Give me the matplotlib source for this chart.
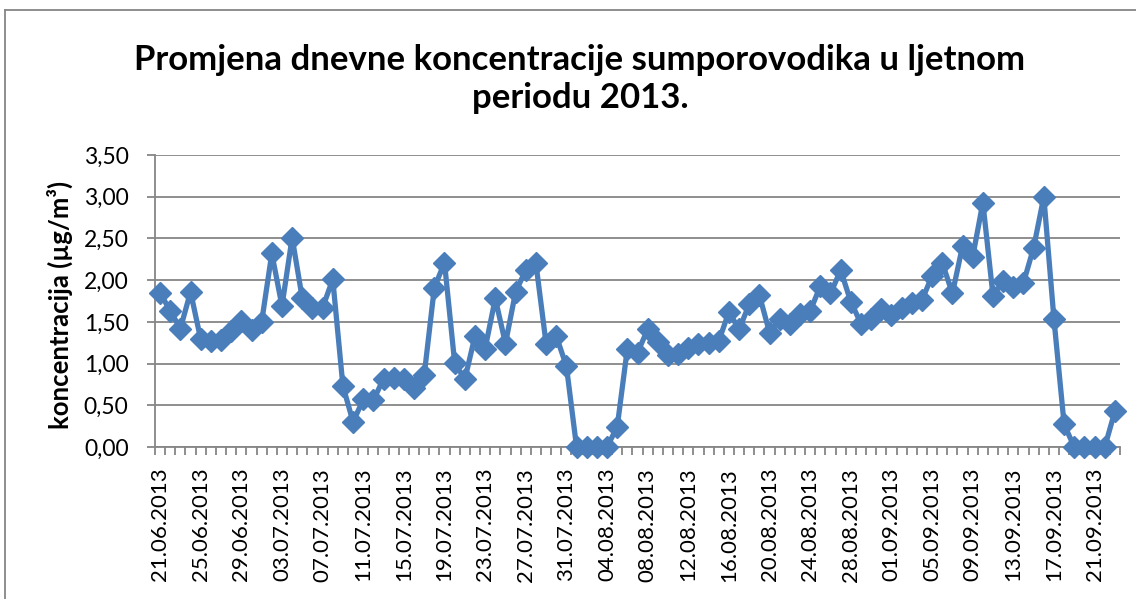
import matplotlib

matplotlib.use("Agg")
import matplotlib.pyplot as plt
import matplotlib.ticker as mticker
from matplotlib.lines import Line2D
import pandas as pd

plt.rcParams["font.family"] = ["Lato", "DejaVu Sans"]

# dnevne vrijednosti H2S (ug/m3), 21.06.2013 - 23.09.2013
dates = pd.date_range("2013-06-21", "2013-09-23", freq="D").strftime("%d.%m.%Y").tolist()
values = [
    1.85, 1.63, 1.42, 1.86, 1.29, 1.27, 1.28, 1.39, 1.51, 1.40,
    1.50, 2.32, 1.69, 2.51, 1.78, 1.67, 1.67, 2.01, 0.73, 0.30,
    0.57, 0.56, 0.82, 0.83, 0.81, 0.71, 0.86, 1.91, 2.21, 1.01,
    0.81, 1.33, 1.18, 1.78, 1.24, 1.86, 2.12, 2.20, 1.24, 1.33,
    0.97, 0.00, 0.00, 0.00, 0.00, 0.24, 1.18, 1.13, 1.41, 1.26,
    1.10, 1.11, 1.19, 1.23, 1.25, 1.27, 1.62, 1.41, 1.71, 1.82,
    1.37, 1.53, 1.48, 1.60, 1.63, 1.93, 1.84, 2.12, 1.74, 1.48,
    1.53, 1.66, 1.58, 1.67, 1.73, 1.76, 2.05, 2.21, 1.84, 2.41,
    2.28, 2.93, 1.81, 1.99, 1.92, 1.97, 2.39, 3.00, 1.53, 0.27,
    0.00, 0.00, 0.00, 0.00, 0.43,
]
y_ticks = [0.0, 0.5, 1.0, 1.5, 2.0, 2.5, 3.0, 3.5]

W, H = 1136, 599
fig = plt.figure(figsize=(W / 100, H / 100), dpi=100)
ax = fig.add_axes([155 / W, 1 - 447 / H, (1120 - 155) / W, (447 - 155) / H])

x = list(range(len(values)))
ax.plot(x, values, color="#4A7EBB", linewidth=3.8, marker="D", markersize=11.5,
        markerfacecolor="#4A7EBB", markeredgecolor="#4A7EBB", clip_on=False, zorder=3)

ax.set_xlim(-0.5, len(values) - 0.5)
ax.set_ylim(0, 3.5)
ax.set_yticks(y_ticks)
ax.yaxis.set_major_formatter(mticker.FuncFormatter(lambda v, p: f"{v:.2f}".replace(".", ",")))

lab_pos = x[::4]
ax.set_xticks(lab_pos)
ax.set_xticklabels([dates[i] for i in lab_pos], rotation=90, fontsize=16)
ax.set_xticks([i - 0.5 for i in range(len(values) + 1)], minor=True)
ax.tick_params(axis="x", which="major", length=0, pad=15)
ax.tick_params(axis="x", which="minor", length=6, width=1.3, color="#868686", direction="out")
ax.tick_params(axis="y", length=6, width=1.3, color="#868686", pad=13, labelsize=16.5)

ax.grid(axis="y", color="#868686", linewidth=1.3)
ax.set_axisbelow(True)
for s in ["top", "right"]:
    ax.spines[s].set_visible(False)
for s in ["left", "bottom"]:
    ax.spines[s].set_color("#868686")
    ax.spines[s].set_linewidth(1.3)

fig.text(60 / W, 1 - 305 / H, "koncentracija (µg/m³)", fontsize=18.5, fontweight="bold",
         rotation=90, ha="center", va="center")

fig.text(580 / W, 1 - 79 / H, "Promjena dnevne koncentracije sumporovodika u ljetnom\nperiodu 2013.",
         fontsize=25, fontweight="bold", ha="center", va="center", linespacing=1.2)

# okvir grafikona
fig.add_artist(Line2D([5 / W, 5 / W], [0, 1 - 10 / H], color="#868686", linewidth=1.3,
                      transform=fig.transFigure))
fig.add_artist(Line2D([5 / W, 1], [1 - 10 / H, 1 - 10 / H], color="#868686", linewidth=1.3,
                      transform=fig.transFigure))

fig.savefig("out.png", dpi=100)
